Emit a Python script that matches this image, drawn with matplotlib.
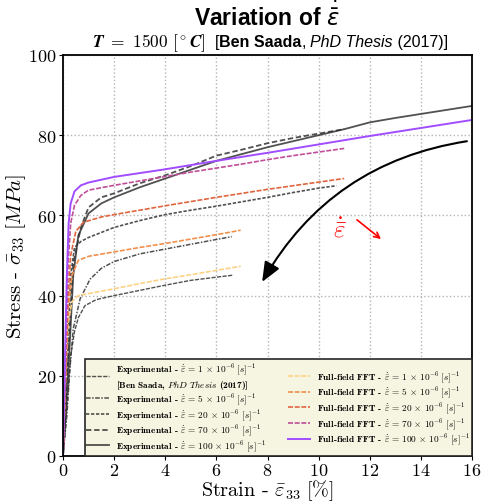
import matplotlib
matplotlib.use("Agg")
import matplotlib.pyplot as plt
from matplotlib.offsetbox import TextArea, HPacker, AnchoredOffsetbox
from matplotlib.ticker import FuncFormatter
from matplotlib.mathtext import MathTextParser

plt.rcParams['mathtext.fontset'] = 'cm'
plt.rcParams['font.family'] = ['cmr10', 'DejaVu Serif']
plt.rcParams['axes.unicode_minus'] = False
plt.rcParams['axes.formatter.use_mathtext'] = True

# ---------------- data (strain [%], stress [MPa]) ----------------
exp1_x = [0, 0.15, 0.3, 0.45, 0.6, 0.86, 1.3, 2, 3, 4, 5, 6, 6.66]
exp1_y = [0, 12, 25, 31, 34.5, 37.5, 39, 40, 41.3, 42.6, 43.8, 44.6, 45.1]

exp5_x = [0, 0.15, 0.27, 0.4, 0.67, 1.06, 1.5, 2, 3, 4, 5, 6, 6.6]
exp5_y = [0, 10, 21.7, 31.7, 39.2, 44.1, 46.8, 48.5, 50.4, 51.6, 52.8, 54, 54.7]

exp20_x = [0, 0.15, 0.3, 0.45, 0.7, 1, 2, 3, 4, 5, 6, 7, 8, 9, 10, 10.7]
exp20_y = [0, 20, 45, 52, 53.5, 54.5, 57, 58.7, 60.2, 61.3, 62.3, 63.4, 64.5, 65.7, 66.8, 67.4]

exp70_x = [0, 0.2, 0.4, 0.7, 1, 1.5, 2, 3, 4, 5, 6, 7, 8, 9, 10, 11]
exp70_y = [0, 25, 48, 57, 62, 64.5, 65.5, 68, 70, 72.3, 74.9, 76.4, 78, 79.3, 80.4, 81.5]

exp100_x = [0, 0.2, 0.4, 0.6, 1, 1.5, 2, 3, 4, 5, 6, 7, 8, 9, 10, 11, 12, 13, 14, 15, 16]
exp100_y = [0, 20, 45, 55, 60.5, 63, 64.5, 67, 69.2, 71.4, 73.6, 75.3, 77, 78.5, 80, 81.5, 83.2, 84.3, 85.3, 86.3, 87.3]

fft1_x = [0, 0.1, 0.2, 0.35, 0.6, 1, 2, 3, 4, 5, 6, 6.95]
fft1_y = [0, 20, 33, 38.5, 40, 40.5, 41.7, 43, 44.2, 45.2, 46.3, 47.3]

fft5_x = [0, 0.1, 0.2, 0.35, 0.6, 1, 2, 3, 4, 5, 6, 6.95]
fft5_y = [0, 20, 37, 45, 48.8, 49.8, 50.9, 52, 53, 54.1, 55.2, 56.3]

fft20_x = [0, 0.1, 0.2, 0.3, 0.5, 0.8, 1.5, 2, 4, 6, 8, 10, 11]
fft20_y = [0, 20, 40, 50, 56, 58.3, 59.6, 60.2, 62.4, 64.5, 66.5, 68.3, 69.2]

fft70_x = [0, 0.1, 0.2, 0.3, 0.45, 0.7, 1, 2, 3, 4, 5, 6, 7, 8, 9, 10, 11]
fft70_y = [0, 25, 48, 58, 62.5, 65, 66.3, 67.5, 68.6, 69.7, 70.8, 71.8, 72.8, 73.9, 74.9, 75.8, 76.7]

fft100_x = [0, 0.08, 0.15, 0.22, 0.3, 0.45, 0.7, 1, 2, 4, 6, 8, 10, 12, 14, 16]
fft100_y = [0, 25, 45, 58, 63, 66, 67.5, 68.2, 69.6, 71.5, 73.6, 75.6, 77.7, 79.8, 81.8, 83.8]

rates = ['1', '5', '20', '70', '100']
x_ticks = [0, 2, 4, 6, 8, 10, 12, 14, 16]
y_ticks = [0, 20, 40, 60, 80, 100]


def mt_ok(s):
    try:
        MathTextParser('path').parse(s)
        return True
    except Exception:
        return False


# ---------------- figure ----------------
fig = plt.figure(figsize=(4.82, 5.02), dpi=100)
ax = fig.add_axes([63/482, 45/502, 409/482, 401/502])

exp_data = [(exp1_x, exp1_y), (exp5_x, exp5_y), (exp20_x, exp20_y),
            (exp70_x, exp70_y), (exp100_x, exp100_y)]
exp_styles = [dict(ls=(0, (3, 1)), lw=1.0),
              dict(ls=(0, (3, 1, 1, 1)), lw=1.1),
              dict(ls=(0, (2, 1)), lw=1.2),
              dict(ls=(0, (3, 1.5)), lw=1.3),
              dict(ls='-', lw=1.3)]
fft_data = [(fft1_x, fft1_y), (fft5_x, fft5_y), (fft20_x, fft20_y),
            (fft70_x, fft70_y), (fft100_x, fft100_y)]
fft_colors = ['#fdd285', '#f0904c', '#e0643e', '#c04e98', '#a14dff']
fft_styles = [dict(ls=(0, (3, 1)), lw=1.2)] * 4 + [dict(ls='-', lw=1.4)]

for i, ((x, y), st) in enumerate(zip(exp_data, exp_styles)):
    lab = (r"Experimental - $\dot{\bar{\varepsilon}}\,=\," + rates[i] +
           r"\,\times\,10^{-6}\ [s]^{-1}$")
    if i == 0:
        lab += "\n" + r"[Ben Saada, $\mathit{PhD\ Thesis}$ (2017)]"
    ax.plot(x, y, color='0.2', alpha=0.85, label=lab, **st)

for i, ((x, y), st) in enumerate(zip(fft_data, fft_styles)):
    lab = (r"Full-field FFT - $\dot{\bar{\varepsilon}}\,=\," + rates[i] +
           r"\,\times\,10^{-6}\ [s]^{-1}$")
    ax.plot(x, y, color=fft_colors[i], label=lab, **st)

ax.set_xlim(0, 16)
ax.set_ylim(0, 100)
ax.set_xticks(x_ticks)
ax.set_yticks(y_ticks)
ax.xaxis.set_major_formatter(FuncFormatter(lambda v, p: r"$%d$" % v))
ax.yaxis.set_major_formatter(FuncFormatter(lambda v, p: r"$%d$" % v))
ax.tick_params(labelsize=13, length=3, pad=1.5)
ax.grid(True, color='0.7', ls=':', lw=1)
for s in ax.spines.values():
    s.set_linewidth(1.3)

ax.set_xlabel(r"Strain - $\bar{\varepsilon}_{33}\ [\%]$", fontsize=14.5, labelpad=-1)
ax.set_ylabel(r"Stress - $\bar{\sigma}_{33}\ [MPa]$", fontsize=15, labelpad=0)

# annotations
ax.annotate("", xy=(7.79, 43.4), xytext=(15.8, 78.5),
            arrowprops=dict(arrowstyle='-|>,head_length=0.6,head_width=0.25',
                            connectionstyle='arc3,rad=0.24', color='k', lw=1.5,
                            shrinkA=0, shrinkB=0, mutation_scale=20))
ax.text(10.84, 56.6, r"$\dot{\bar{\varepsilon}}$", color='red', fontsize=18,
        ha='center', va='center')
ax.annotate("", xy=(12.44, 54.1), xytext=(11.5, 58.9),
            arrowprops=dict(arrowstyle='->', color='red', lw=1.2,
                            shrinkA=0, shrinkB=0))

leg = ax.legend(loc='lower right', bbox_to_anchor=(1.0, 0.0), borderaxespad=0,
                ncol=2, prop=dict(family=['cmb10', 'DejaVu Serif'], size=6.7),
                fancybox=False, framealpha=1,
                facecolor='#f6f5e1', edgecolor='0.15', handlelength=2.4,
                handletextpad=0.8, columnspacing=2.3, labelspacing=0.0,
                borderpad=0.2)
leg.get_frame().set_linewidth(1.2)

# titles
fig.text(267/482, 1 - 16/502, r"Variation of $\dot{\bar{\varepsilon}}$", ha='center',
         va='center', fontsize=16.5, fontweight='bold', family='Liberation Sans',
         math_fontfamily='dejavusans')

tstr = r"$\boldsymbol{T\ =\ 1500}\ \boldsymbol{[^\circ C]}$"
if not mt_ok(tstr):
    tstr = r"$\mathbf{T\ =\ 1500\ [^\circ C]}$"
sans = 'Liberation Sans'
parts = [
    TextArea(tstr, textprops=dict(fontsize=12.5)),
    TextArea("  [", textprops=dict(fontsize=11.5, family=sans)),
    TextArea("Ben Saada", textprops=dict(fontsize=11.5, family=sans, fontweight='bold')),
    TextArea(", ", textprops=dict(fontsize=11.5, family=sans)),
    TextArea("PhD Thesis", textprops=dict(fontsize=11.5, family=sans, style='italic')),
    TextArea(" (2017)]", textprops=dict(fontsize=11.5, family=sans)),
]
box = HPacker(children=parts, align='baseline', pad=0, sep=0)
anch = AnchoredOffsetbox(loc='center', child=box, pad=0, frameon=False,
                         bbox_to_anchor=(270/482, 1 - 43/502),
                         bbox_transform=fig.transFigure, borderpad=0)
fig.add_artist(anch)

fig.savefig("out.png", dpi=100)
